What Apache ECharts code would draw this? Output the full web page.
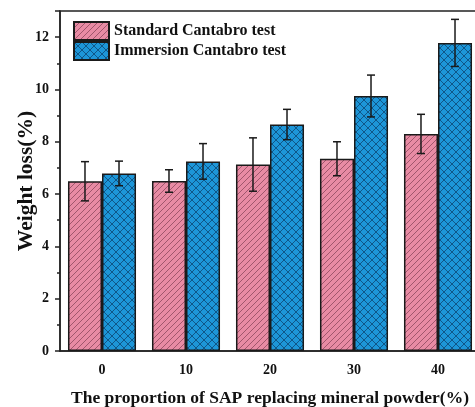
<!DOCTYPE html>
<html>
<head>
<meta charset="utf-8">
<script src="https://cdn.jsdelivr.net/npm/echarts@6/dist/echarts.min.js"></script>
<style>
  html, body { margin: 0; padding: 0; background: #fff; }
  #chart { width: 475px; height: 407px; }
</style>
</head>
<body>
<div id="chart"></div>
<script>
// SAP replacement ratio (%) on the x axis
const categories = ['0', '10', '20', '30', '40'];
// Mean weight loss (%) and standard deviation for each test
const standardMean = [6.49, 6.50, 7.13, 7.35, 8.30];
const standardErr  = [0.75, 0.43, 1.02, 0.65, 0.75];
const immersionMean = [6.79, 7.25, 8.66, 9.75, 11.78];
const immersionErr  = [0.47, 0.68, 0.58, 0.80, 0.90];
const yTicks = [0, 2, 4, 6, 8, 10, 12];

const FONT = '"Liberation Serif", "Times New Roman", serif';

// Diagonal hatch fill
function hatchPattern() {
  const s = 6;
  const c = document.createElement('canvas');
  c.width = s; c.height = s;
  const g = c.getContext('2d');
  g.fillStyle = '#E88BA4';
  g.fillRect(0, 0, s, s);
  g.strokeStyle = 'rgba(110,50,70,0.75)';
  g.lineWidth = 0.8;
  g.beginPath();
  g.moveTo(-1, s + 1); g.lineTo(s + 1, -1);
  g.moveTo(-1, 1); g.lineTo(1, -1);
  g.moveTo(s - 1, s + 1); g.lineTo(s + 1, s - 1);
  g.stroke();
  return c;
}

// Diamond cross-hatch fill
function crossPattern() {
  const s = 8;
  const c = document.createElement('canvas');
  c.width = s; c.height = s;
  const g = c.getContext('2d');
  g.fillStyle = '#1D96D8';
  g.fillRect(0, 0, s, s);
  g.strokeStyle = 'rgba(10,50,90,0.8)';
  g.lineWidth = 0.8;
  g.beginPath();
  g.moveTo(0, 0); g.lineTo(s, s);
  g.moveTo(s, 0); g.lineTo(0, s);
  g.stroke();
  return c;
}

const pinkFill = { image: hatchPattern(), repeat: 'repeat' };
const blueFill = { image: crossPattern(), repeat: 'repeat' };

const chart = echarts.init(document.getElementById('chart'), null, { renderer: 'canvas' });

// Error bars drawn at the centre of each grouped bar
function errorSeries(means, errs, side) {
  return {
    type: 'custom',
    xAxisIndex: 0,
    yAxisIndex: 0,
    z: 5,
    silent: true,
    data: means.map((m, i) => [i, m - errs[i], m + errs[i]]),
    renderItem: function (params, api) {
      const band = api.size([1, 0])[0];
      const offset = side * band * 0.81 / 4;
      const lo = api.coord([api.value(0), api.value(1)]);
      const hi = api.coord([api.value(0), api.value(2)]);
      const x = lo[0] + offset;
      const cap = 4;
      const style = { stroke: '#1a1a1a', lineWidth: 1.5 };
      return {
        type: 'group',
        children: [
          { type: 'line', shape: { x1: x, y1: lo[1], x2: x, y2: hi[1] }, style: style },
          { type: 'line', shape: { x1: x - cap, y1: hi[1], x2: x + cap, y2: hi[1] }, style: style },
          { type: 'line', shape: { x1: x - cap, y1: lo[1], x2: x + cap, y2: lo[1] }, style: style }
        ]
      };
    }
  };
}

chart.setOption({
  animation: false,
  backgroundColor: '#fff',
  grid: {
    left: 60, top: 11, width: 420, height: 340,
    outerBoundsMode: 'none',
    containLabel: false,
    show: true, borderColor: '#222', borderWidth: 1.5, backgroundColor: 'transparent'
  },
  legend: {
    left: 68, top: 16,
    orient: 'vertical',
    itemWidth: 35, itemHeight: 18, itemGap: 0,
    icon: 'rect',
    textStyle: { fontFamily: FONT, fontWeight: 'bold', fontSize: 16, color: '#111' },
    data: ['Standard Cantabro test', 'Immersion Cantabro test']
  },
  xAxis: [
    {
      type: 'category',
      data: categories,
      boundaryGap: true,
      axisLine: { lineStyle: { color: '#222', width: 1.5 } },
      axisTick: { alignWithLabel: true, length: 5, lineStyle: { color: '#222', width: 1.5 } },
      axisLabel: { fontFamily: FONT, fontWeight: 'bold', fontSize: 14, color: '#111', margin: 12 },
      name: 'The proportion of SAP replacing mineral powder(%)',
      nameLocation: 'middle',
      nameGap: 38,
      nameMoveOverlap: false,
      nameTextStyle: { fontFamily: FONT, fontWeight: 'bold', fontSize: 17.5, color: '#111' }
    },
    {
      type: 'category',
      data: categories,
      position: 'bottom',
      boundaryGap: true,
      axisLine: { show: false },
      axisTick: { length: 3, lineStyle: { color: '#222', width: 1.5 } },
      axisLabel: { show: false }
    }
  ],
  yAxis: {
    type: 'value',
    min: 0, max: 13, interval: 2,
    axisLine: { show: true, lineStyle: { color: '#222', width: 1.5 } },
    axisTick: { show: true, length: 5, lineStyle: { color: '#222', width: 1.5 } },
    minorTick: { show: true, splitNumber: 2, length: 3, lineStyle: { color: '#222', width: 1.5 } },
    splitLine: { show: false },
    axisLabel: {
      fontFamily: FONT, fontWeight: 'bold', fontSize: 14, color: '#111', margin: 11,
      formatter: function (v) { return yTicks.indexOf(v) >= 0 ? String(v) : ''; }
    },
    name: 'Weight loss(%)',
    nameLocation: 'middle',
    nameGap: 23,
    nameMoveOverlap: false,
    nameTextStyle: { fontFamily: FONT, fontWeight: 'bold', fontSize: 21.5, color: '#111' }
  },
  series: [
    {
      name: 'Standard Cantabro test',
      type: 'bar',
      data: standardMean,
      barGap: '0%',
      barCategoryGap: '19%',
      itemStyle: { color: pinkFill, borderColor: '#1a1a1a', borderWidth: 1.5 }
    },
    {
      name: 'Immersion Cantabro test',
      type: 'bar',
      data: immersionMean,
      barGap: '0%',
      barCategoryGap: '19%',
      itemStyle: { color: blueFill, borderColor: '#1a1a1a', borderWidth: 1.5 }
    },
    errorSeries(standardMean, standardErr, -1),
    errorSeries(immersionMean, immersionErr, 1)
  ]
});
</script>
</body>
</html>
